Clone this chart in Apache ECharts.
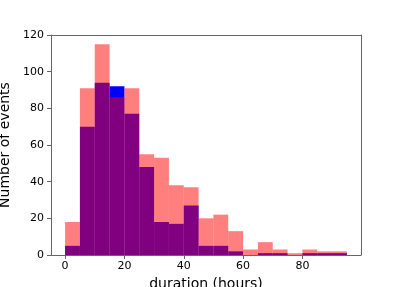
<!DOCTYPE html>
<html>
<head>
<meta charset="utf-8">
<script src="https://cdn.jsdelivr.net/npm/echarts@6/dist/echarts.min.js"></script>
<style>html,body{margin:0;padding:0;background:#fff}#c{width:401px;height:287px}</style>
</head>
<body>
<div id="c"></div>
<script>
const binStarts = [0,5,10,15,20,25,30,35,40,45,50,55,60,65,70,75,80,85,90];
const binWidth = 5;
const blueCounts = [5,70,94,92,77,48,18,17,27,5,5,2,0,1,1,0,1,1,1];
const redCounts  = [18,91,115,86,91,55,53,38,37,20,22,13,3,7,3,1,3,2,2];
const xTicks = [0,20,40,60,80];
const yTicks = [0,20,40,60,80,100,120];

function makeData(counts){ return binStarts.map((s,i)=>[s, s+binWidth, counts[i]]); }
function render(color, opacity){
  return function(params, api){
    const p0 = api.coord([api.value(0), 0]);
    const p1 = api.coord([api.value(1), api.value(2)]);
    return {type:'rect', shape:{x:p0[0], y:p1[1], width:p1[0]-p0[0], height:p0[1]-p1[1]},
      style:{fill:color, opacity:opacity}};
  };
}
const chart = echarts.init(document.getElementById('c'), null, {renderer:'canvas'});
const font = 'DejaVu Sans';
const lineC = '#666';
chart.setOption({
  animation:false,
  grid:{left:51, right:40, top:35, bottom:32, show:false, containLabel:false, outerBoundsMode:'none'},
  xAxis:[{type:'value', min:-4.75, max:99.75, interval:20,
    name:'duration (hours)', nameLocation:'middle', nameGap:22,
    nameTextStyle:{fontFamily:font, fontSize:14, color:'#000'},
    axisLine:{show:true, onZero:false, lineStyle:{color:lineC}},
    axisTick:{show:true, length:4, lineStyle:{color:lineC}, customValues:xTicks},
    axisLabel:{fontFamily:font, fontSize:11, color:'#000', margin:6, customValues:xTicks},
    splitLine:{show:false}},
    {type:'value', position:'top', min:-4.75, max:99.75,
    axisLine:{show:true, onZero:false, lineStyle:{color:lineC}},
    axisTick:{show:false}, axisLabel:{show:false}, splitLine:{show:false}}],
  yAxis:[{type:'value', min:0, max:120, interval:20,
    name:'Number of events', nameLocation:'middle', nameGap:34,
    nameTextStyle:{fontFamily:font, fontSize:14, color:'#000'},
    axisLine:{show:true, onZero:false, lineStyle:{color:lineC}},
    axisTick:{show:true, length:4, lineStyle:{color:lineC}, customValues:yTicks},
    axisLabel:{fontFamily:font, fontSize:11, color:'#000', margin:7, customValues:yTicks},
    splitLine:{show:false}},
    {type:'value', position:'right', min:0, max:120,
    axisLine:{show:true, onZero:false, lineStyle:{color:lineC}},
    axisTick:{show:false}, axisLabel:{show:false}, splitLine:{show:false}}],
  series:[
    {type:'custom', renderItem:render('#0000ff',1), data:makeData(blueCounts), encode:{x:[0,1], y:2}},
    {type:'custom', renderItem:render('#ff0000',0.5), data:makeData(redCounts), encode:{x:[0,1], y:2}}
  ]
});
</script>
</body>
</html>
